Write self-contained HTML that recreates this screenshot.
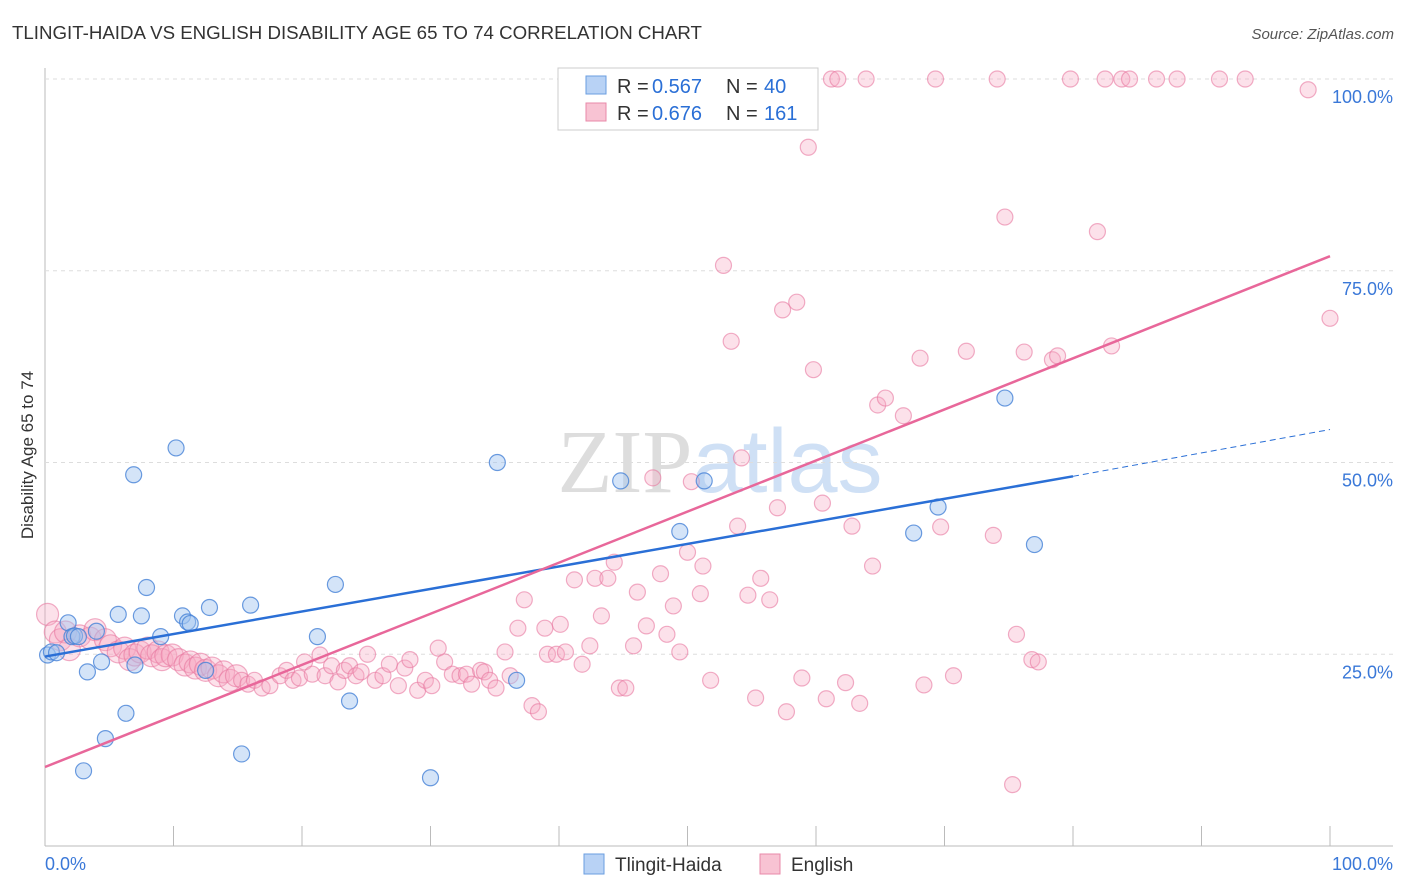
<!DOCTYPE html>
<html><head><meta charset="utf-8"><style>
body{margin:0;background:#fff;font-family:"Liberation Sans",sans-serif}
svg{display:block}
</style></head><body>
<svg id="c" width="1406" height="892">
<text x="12" y="39" font-size="18.7" fill="#333">TLINGIT-HAIDA VS ENGLISH DISABILITY AGE 65 TO 74 CORRELATION CHART</text>
<text x="1394" y="39" font-size="15" fill="#555" text-anchor="end" font-style="italic">Source: ZipAtlas.com</text>
<text x="720" y="492" font-size="90" fill="#ddd" text-anchor="middle" font-family="Liberation Serif">ZIP<tspan fill="#cfe0f5" font-family="Liberation Sans">atlas</tspan></text>
<text transform="translate(33,455) rotate(-90)" font-size="17" fill="#333" text-anchor="middle">Disability Age 65 to 74</text>
<g id="grid"></g><g id="pts"></g><g id="lines"></g>
<g>
<rect x="558" y="68" width="260" height="62" fill="#fff" stroke="#ccc"/>
<rect x="586" y="76" width="20" height="18" fill="#b8d2f5" stroke="#6a9ee0"/>
<rect x="586" y="103" width="20" height="18" fill="#f8c3d3" stroke="#e88aa8"/>
<text x="617" y="93" font-size="20" fill="#333">R = </text><text x="652" y="93" font-size="20" fill="#2a6fd6">0.567</text>
<text x="726" y="93" font-size="20" fill="#333">N = </text><text x="764" y="93" font-size="20" fill="#2a6fd6">40</text>
<text x="617" y="120" font-size="20" fill="#333">R = </text><text x="652" y="120" font-size="20" fill="#2a6fd6">0.676</text>
<text x="726" y="120" font-size="20" fill="#333">N = </text><text x="764" y="120" font-size="20" fill="#2a6fd6">161</text>
</g>
<g>
<rect x="584" y="854" width="20" height="20" fill="#b8d2f5" stroke="#6a9ee0"/>
<text x="615" y="871" font-size="19" fill="#333">Tlingit-Haida</text>
<rect x="760" y="854" width="20" height="20" fill="#f8c3d3" stroke="#e88aa8"/>
<text x="791" y="871" font-size="19" fill="#333">English</text>
</g>
</svg>
<script>
const xTicks=[0,10,20,30,40,50,60,70,80,90,100];
const yTicks=[25,50,75,100];
const blueX=[0.2,0.5,0.9,1.8,2.1,2.3,2.6,3.0,3.3,4.0,4.4,4.7,5.7,6.3,6.9,7.0,7.5,7.9,9.0,10.2,10.7,11.1,11.3,12.5,12.8,15.3,16.0,21.2,22.6,23.7,30.0,35.2,36.7,44.8,49.4,51.3,67.6,69.5,74.7,77.0];
const blueY=[24.9,25.3,25.2,29.1,27.3,27.4,27.3,9.8,22.7,28.0,24.0,14.0,30.2,17.3,48.4,23.6,30.0,33.7,27.3,51.9,30.0,29.2,29.0,22.9,31.1,12.0,31.4,27.3,34.1,18.9,8.9,50.0,21.6,47.6,41.0,47.6,40.8,44.2,58.4,39.3];
const pinkX=[0.2,0.8,1.2,1.6,1.9,2.7,3.5,3.9,4.7,5.1,5.7,6.2,6.6,7.0,7.4,8.0,8.3,8.8,9.1,9.4,9.9,10.4,10.9,11.3,11.7,12.1,12.5,13.0,13.5,13.9,14.4,14.9,15.3,15.8,16.3,16.9,17.5,18.3,18.8,19.3,19.8,20.2,20.8,21.4,21.8,22.3,22.8,23.3,23.7,24.2,24.6,25.1,25.7,26.3,26.8,27.5,28.0,28.4,29.0,29.6,30.1,30.6,31.1,31.7,32.3,32.8,33.2,33.9,34.2,34.6,35.1,35.8,36.2,36.8,37.3,37.9,38.4,38.9,39.1,39.8,40.1,40.5,41.2,41.8,42.4,42.8,43.3,43.8,44.3,44.7,45.2,45.8,46.1,46.8,47.3,47.9,48.4,48.9,49.4,50.0,50.3,51.0,51.2,51.8,52.4,52.8,53.4,53.9,54.2,54.7,55.3,55.7,56.4,57.0,57.4,57.7,58.5,58.9,59.4,59.8,60.5,60.8,61.2,61.7,62.3,62.8,63.4,63.9,64.4,64.8,65.4,66.8,68.1,68.4,69.3,69.7,70.7,71.7,73.8,74.1,74.7,75.3,75.6,76.2,76.8,77.3,78.4,78.8,79.8,81.9,82.5,83.0,83.8,84.4,86.5,88.1,91.4,93.4,98.3,100.0];
const pinkY=[30.2,27.9,26.9,27.9,25.6,27.4,27.1,28.2,26.9,26.1,25.3,25.8,24.3,24.9,25.3,25.8,24.8,25.3,24.3,24.8,24.9,24.3,23.6,24.0,23.2,23.7,22.9,23.2,22.2,22.7,21.6,22.2,21.6,21.1,21.6,20.6,20.9,22.2,22.9,21.6,21.9,24.0,22.4,24.9,22.2,23.5,21.4,22.9,23.5,22.2,22.7,25.0,21.6,22.2,23.7,20.9,23.2,24.3,20.3,21.6,20.9,25.8,24.0,22.4,22.2,22.4,21.1,22.9,22.7,21.6,20.6,25.3,22.2,28.4,32.1,18.3,17.5,28.4,25.0,25.0,28.9,25.3,34.7,23.7,26.1,34.9,30.0,34.9,37.0,20.6,20.6,26.1,33.1,28.7,48.0,35.5,27.6,31.3,25.3,38.3,47.5,32.9,36.5,21.6,100,75.7,65.8,41.7,50.6,32.7,19.3,34.9,32.1,44.1,69.9,17.5,70.9,21.9,91.1,62.1,44.7,19.2,100,100,21.3,41.7,18.6,100,36.5,57.5,58.4,56.1,63.6,21.0,100,41.6,22.2,64.5,40.5,100,82.0,8.0,27.6,64.4,24.3,24.0,63.4,63.9,100,80.1,100,65.2,100,100,100,100,100,100,98.6,68.8];
const NS='http://www.w3.org/2000/svg';
const X0=45,X1=1330,Y0=846,YS=7.67;
const sx=v=>X0+(X1-X0)*v/100, sy=v=>Y0-YS*v;
function mk(t,a,p){const e=document.createElementNS(NS,t);for(const k in a)e.setAttribute(k,a[k]);p.appendChild(e);return e;}
const g=document.getElementById('grid');
const ax=mk('line',{x1:45,y1:68,x2:45,y2:846,stroke:'#bbb'},g);


const bx=mk('line',{x1:45,y1:846,x2:1393,y2:846,stroke:'#bbb'},g);


yTicks.forEach(v=>{
 const l=mk('line',{x1:45,x2:1393,y1:sy(v),y2:sy(v),stroke:'#ddd','stroke-dasharray':'4,4'},g);
 
 
 const t=mk('text',{x:1393,y:sy(v)+24,'font-size':18,fill:'#3a78d8','text-anchor':'end'},g);
 t.textContent=v.toFixed(1)+'%';
 
 
});
xTicks.forEach(v=>{
 const l=mk('line',{x1:sx(v),x2:sx(v),y1:826,y2:846,stroke:'#bbb'},g);
 
 
});
[[0,'0.0%','start',45],[100,'100.0%','end',1393]].forEach(([v,s,a,x])=>{
 const t=mk('text',{x:x,y:870,'font-size':18,fill:'#3a78d8','text-anchor':a},g);t.textContent=s;
 
 
});
const P=document.getElementById('pts');
pinkX.forEach((x,i)=>{
 const c=mk('circle',{cx:sx(x),cy:sy(pinkY[i]),r:x<15?11:8,fill:'rgba(245,170,195,0.35)',stroke:'rgba(232,120,160,0.6)','stroke-width':1.2},P);
 
 
});
blueX.forEach((x,i)=>{
 const c=mk('circle',{cx:sx(x),cy:sy(blueY[i]),r:8,fill:'rgba(160,195,240,0.45)',stroke:'rgba(70,130,215,0.8)','stroke-width':1.2},P);
 
 
});
const L=document.getElementById('lines');
const b=mk('line',{x1:sx(0),y1:sy(24.7),x2:sx(80),y2:sy(48.2),stroke:'#2a6fd6','stroke-width':2.5},L);


const bd=mk('line',{x1:sx(80),y1:sy(48.2),x2:sx(100),y2:sy(54.3),stroke:'#2a6fd6','stroke-width':1,'stroke-dasharray':'6,4'},L);


const p=mk('line',{x1:sx(0),y1:sy(10.3),x2:sx(100),y2:sy(76.9),stroke:'#e8679a','stroke-width':2.5},L);


</script>
</body></html>
